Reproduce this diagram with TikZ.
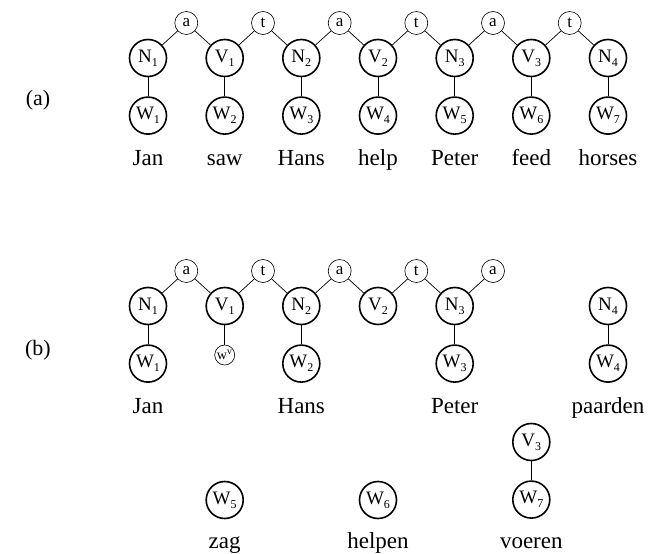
\documentclass[tikz,border=0pt]{standalone}
\usepackage{fontspec}
\setmainfont{Liberation Serif}
\usetikzlibrary{positioning}
\newcommand{\lab}[2]{#1\raisebox{-0.45ex}{\fontsize{12}{12}\selectfont #2}}
\tikzset{
  var/.style={circle,draw,line width=1.6pt,minimum size=37pt,inner sep=0pt,font=\fontsize{19}{19}\selectfont},
  rel/.style={circle,draw,line width=0.6pt,minimum size=23pt,inner sep=0pt,font=\fontsize{17}{17}\selectfont},
  sml/.style={circle,draw,line width=0.6pt,minimum size=20pt,inner sep=0pt,font=\fontsize{14}{14}\selectfont},
  tok/.style={anchor=base,inner sep=0pt,font=\fontsize{23}{23}\selectfont},
  tag/.style={inner sep=0pt,font=\fontsize{22}{22}\selectfont},
  edge/.style={line width=0.7pt}
}
\begin{document}
\begin{tikzpicture}[x=1pt,y=-1pt]
\useasboundingbox (0,0) rectangle (665,554);
% (a) English
\node[tag] (tagA) at (38,100) {(a)};
\node[var] (aN1) at (148,58) {\lab{N}{1}};
\node[var] (aV1) at (224.7,58) {\lab{V}{1}};
\node[var] (aN2) at (301.3,58) {\lab{N}{2}};
\node[var] (aV2) at (378,58) {\lab{V}{2}};
\node[var] (aN3) at (454.7,58) {\lab{N}{3}};
\node[var] (aV3) at (531.3,58) {\lab{V}{3}};
\node[var] (aN4) at (608,58) {\lab{N}{4}};
\node[rel] (aL1) at (186.3,23) {a};
\node[rel] (aL2) at (263,23) {t};
\node[rel] (aL3) at (339.7,23) {a};
\node[rel] (aL4) at (416.3,23) {t};
\node[rel] (aL5) at (493,23) {a};
\node[rel] (aL6) at (569.7,23) {t};
\node[var,below=19pt of aN1] (aW1) {\lab{W}{1}};
\node[var,below=19pt of aV1] (aW2) {\lab{W}{2}};
\node[var,below=19pt of aN2] (aW3) {\lab{W}{3}};
\node[var,below=19pt of aV2] (aW4) {\lab{W}{4}};
\node[var,below=19pt of aN3] (aW5) {\lab{W}{5}};
\node[var,below=19pt of aV3] (aW6) {\lab{W}{6}};
\node[var,below=19pt of aN4] (aW7) {\lab{W}{7}};
\node[tok] (aT1) at (148,165) {Jan};
\node[tok] (aT2) at (224.7,165) {saw};
\node[tok] (aT3) at (301.3,165) {Hans};
\node[tok] (aT4) at (378,165) {help};
\node[tok] (aT5) at (454.7,165) {Peter};
\node[tok] (aT6) at (531.3,165) {feed};
\node[tok] (aT7) at (608,165) {horses};
\draw[edge] (aN1)--(aL1)--(aV1)--(aL2)--(aN2)--(aL3)--(aV2)--(aL4)--(aN3)--(aL5)--(aV3)--(aL6)--(aN4);
\draw[edge] (aN1)--(aW1); \draw[edge] (aV1)--(aW2); \draw[edge] (aN2)--(aW3);
\draw[edge] (aV2)--(aW4); \draw[edge] (aN3)--(aW5); \draw[edge] (aV3)--(aW6);
\draw[edge] (aN4)--(aW7);
% (b) Dutch
\node[tag] (tagB) at (38,350) {(b)};
\node[var] (bN1) at (148,306) {\lab{N}{1}};
\node[var] (bV1) at (224.7,306) {\lab{V}{1}};
\node[var] (bN2) at (301.3,306) {\lab{N}{2}};
\node[var] (bV2) at (378,306) {\lab{V}{2}};
\node[var] (bN3) at (454.7,306) {\lab{N}{3}};
\node[var] (bN4) at (608,306) {\lab{N}{4}};
\node[rel] (bL1) at (186.3,271) {a};
\node[rel] (bL2) at (263,271) {t};
\node[rel] (bL3) at (339.7,271) {a};
\node[rel] (bL4) at (416.3,271) {t};
\node[rel] (bL5) at (493,271) {a};
\node[var,below=19pt of bN1] (bW1) {\lab{W}{1}};
\node[sml] (bWv) at (224.7,355) {w\textsuperscript{v}};
\node[var,below=19pt of bN2] (bW2) {\lab{W}{2}};
\node[var,below=19pt of bN3] (bW3) {\lab{W}{3}};
\node[var,below=19pt of bN4] (bW4) {\lab{W}{4}};
\node[tok] (bT1) at (148,413) {Jan};
\node[tok] (bT2) at (301.3,413) {Hans};
\node[tok] (bT3) at (454.7,413) {Peter};
\node[tok] (bT4) at (608,413) {paarden};
\node[var] (bV3) at (531.3,442) {\lab{V}{3}};
\node[var,below=19pt of bV3] (bW7) {\lab{W}{7}};
\node[var] (bW5) at (224.7,500) {\lab{W}{5}};
\node[var] (bW6) at (378,500) {\lab{W}{6}};
\node[tok] (bT5) at (224.7,548) {zag};
\node[tok] (bT6) at (378,548) {helpen};
\node[tok] (bT7) at (531.3,548) {voeren};
\draw[edge] (bN1)--(bL1)--(bV1)--(bL2)--(bN2)--(bL3)--(bV2)--(bL4)--(bN3)--(bL5);
\draw[edge] (bN1)--(bW1); \draw[edge] (bV1)--(bWv); \draw[edge] (bN2)--(bW2);
\draw[edge] (bN3)--(bW3); \draw[edge] (bN4)--(bW4); \draw[edge] (bV3)--(bW7);
\end{tikzpicture}
\end{document}
